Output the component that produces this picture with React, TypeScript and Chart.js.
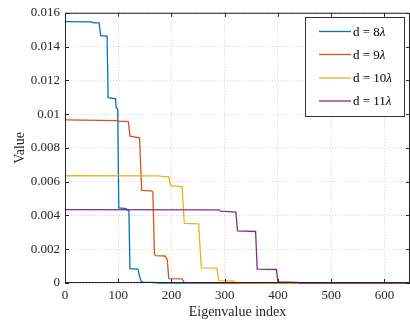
import React, { useEffect, useRef } from "react";
import { Chart, registerables } from "chart.js";

Chart.register(...registerables);

const seriesLabels = ["d = 8λ", "d = 9λ", "d = 10λ", "d = 11λ"];
const seriesColors = ["#0072BD", "#D95319", "#EDB120", "#7E2F8E"];

const blueX = [0, 50, 53, 64, 67, 79, 81, 95, 96, 99, 101, 115, 117, 120, 122, 137, 140, 143, 146, 170, 175, 648];
const blueY = [0.01548, 0.01546, 0.0154, 0.0154, 0.01465, 0.01462, 0.01097, 0.0109, 0.0104, 0.0103, 0.00445, 0.0044, 0.0043, 0.0043, 0.00085, 0.00082, 0.0004, 0.0001, 0.00005, 0.00003, 0, 0];

const redX = [0, 100, 101, 119, 122, 140, 144, 162, 165, 168, 170, 188, 192, 195, 220, 224, 300, 648];
const redY = [0.00966, 0.00962, 0.00958, 0.00955, 0.0087, 0.0086, 0.00548, 0.00545, 0.0054, 0.0017, 0.00162, 0.0016, 0.0014, 0.00026, 0.00024, 0.00003, 0, 0];

const yellowX = [0, 175, 185, 195, 198, 220, 224, 251, 256, 285, 289, 318, 322, 648];
const yellowY = [0.00635, 0.00634, 0.0063, 0.0063, 0.00576, 0.0057, 0.00353, 0.0035, 0.0009, 0.00088, 0.00014, 0.00011, 0.00002, 0];

const purpleX = [0, 289, 292, 321, 324, 358, 361, 397, 400, 437, 442, 648];
const purpleY = [0.00434, 0.00433, 0.00425, 0.0042, 0.00308, 0.00305, 0.00082, 0.0008, 0.00006, 0.00004, 0, 0];

const seriesX = [blueX, redX, yellowX, purpleX];
const seriesY = [blueY, redY, yellowY, purpleY];

const xMin = 0;
const xMax = 648;
const xStep = 100;
const yMin = 0;
const yMax = 0.016;
const yStep = 0.002;

const AXIS = "#262626";
const SERIF = "'Liberation Serif', 'DejaVu Serif', serif";

const framePlugin = {
  id: "frameTicks",
  afterDraw(chart: any) {
    const ctx = chart.ctx;
    const a = chart.chartArea;
    const xs = chart.scales.x;
    const ys = chart.scales.y;
    ctx.save();
    ctx.strokeStyle = AXIS;
    ctx.lineWidth = 1;
    ctx.beginPath();
    ctx.rect(a.left + 0.5, a.top + 0.5, a.right - a.left - 1, a.bottom - a.top - 1);
    ctx.stroke();
    const tl = 4;
    ctx.beginPath();
    xs.ticks.forEach((t: any) => {
      const px = Math.round(xs.getPixelForValue(t.value)) + 0.5;
      ctx.moveTo(px, a.bottom);
      ctx.lineTo(px, a.bottom - tl);
      ctx.moveTo(px, a.top);
      ctx.lineTo(px, a.top + tl);
    });
    ys.ticks.forEach((t: any) => {
      const py = Math.round(ys.getPixelForValue(t.value)) + 0.5;
      ctx.moveTo(a.left, py);
      ctx.lineTo(a.left + tl, py);
      ctx.moveTo(a.right, py);
      ctx.lineTo(a.right - tl, py);
    });
    ctx.stroke();

    // legend box
    const bx = 305, by = 17, bw = 99, bh = 99;
    ctx.fillStyle = "#ffffff";
    ctx.fillRect(bx, by, bw, bh);
    ctx.strokeStyle = "#333333";
    ctx.strokeRect(bx + 0.5, by + 0.5, bw, bh);
    const rows = [31.5, 54.5, 78, 101];
    chart.data.datasets.forEach((ds: any, i: number) => {
      const y = rows[i];
      ctx.strokeStyle = ds.borderColor;
      ctx.lineWidth = 1.3;
      ctx.beginPath();
      ctx.moveTo(319, y);
      ctx.lineTo(351, y);
      ctx.stroke();
      const label: string = ds.label;
      const main = label.slice(0, -1);
      const last = label.slice(-1);
      ctx.fillStyle = "#000000";
      ctx.textBaseline = "middle";
      ctx.textAlign = "left";
      ctx.font = `13px ${SERIF}`;
      ctx.fillText(main, 353, y + 1);
      const w = ctx.measureText(main).width;
      ctx.font = `italic 13px ${SERIF}`;
      ctx.fillText(last, 353 + w, y + 1);
    });
    ctx.restore();
  },
};

export default function App() {
  const ref = useRef<HTMLCanvasElement | null>(null);
  useEffect(() => {
    if (!ref.current) return;
    const datasets = seriesLabels.map((label, i) => ({
      label,
      data: seriesX[i].map((x, j) => ({ x, y: seriesY[i][j] })),
      borderColor: seriesColors[i],
      backgroundColor: seriesColors[i],
      borderWidth: 1.3,
      pointRadius: 0,
      fill: false,
      tension: 0,
      clip: 3,
      order: 3 - i,
    }));
    const chart = new Chart(ref.current, {
      type: "line",
      data: { datasets },
      options: {
        animation: false,
        responsive: false,
        layout: { padding: { top: 9, right: 0, left: 0, bottom: 0 } },
        plugins: { legend: { display: false }, tooltip: { enabled: false } },
        scales: {
          x: {
            type: "linear",
            min: xMin,
            max: xMax,
            afterFit: (s: any) => {
              s.height = 43;
            },
            ticks: {
              stepSize: xStep,
              includeBounds: false,
              color: "#262626",
              padding: 5,
              maxRotation: 0,
              font: { family: SERIF, size: 13 },
            },
            grid: { color: "#d4d4d4", lineWidth: 1, drawTicks: false },
            border: { display: false, dash: [1, 2] },
            title: {
              display: true,
              text: "Eigenvalue index",
              color: "#262626",
              font: { family: SERIF, size: 14 },
              padding: { top: 0, bottom: 5 },
            },
          },
          y: {
            type: "linear",
            min: yMin,
            max: yMax,
            afterFit: (s: any) => {
              s.width = 65;
            },
            ticks: {
              stepSize: yStep,
              color: "#262626",
              padding: 5,
              font: { family: SERIF, size: 13 },
              callback: (v: any) => String(Number(Number(v).toFixed(3))),
            },
            grid: { color: "#d4d4d4", lineWidth: 1, drawTicks: false },
            border: { display: false, dash: [1, 2] },
            title: {
              display: true,
              text: "Value",
              color: "#262626",
              font: { family: SERIF, size: 14 },
              padding: { top: 12, bottom: 0 },
            },
          },
        },
      },
      plugins: [framePlugin],
    });
    return () => chart.destroy();
  }, []);
  return (
    <div style={{ position: "fixed", left: 0, top: 0, width: 410, height: 326, background: "#fff" }}>
      <canvas ref={ref} width={410} height={326} style={{ width: 410, height: 326, display: "block" }} />
    </div>
  );
}
